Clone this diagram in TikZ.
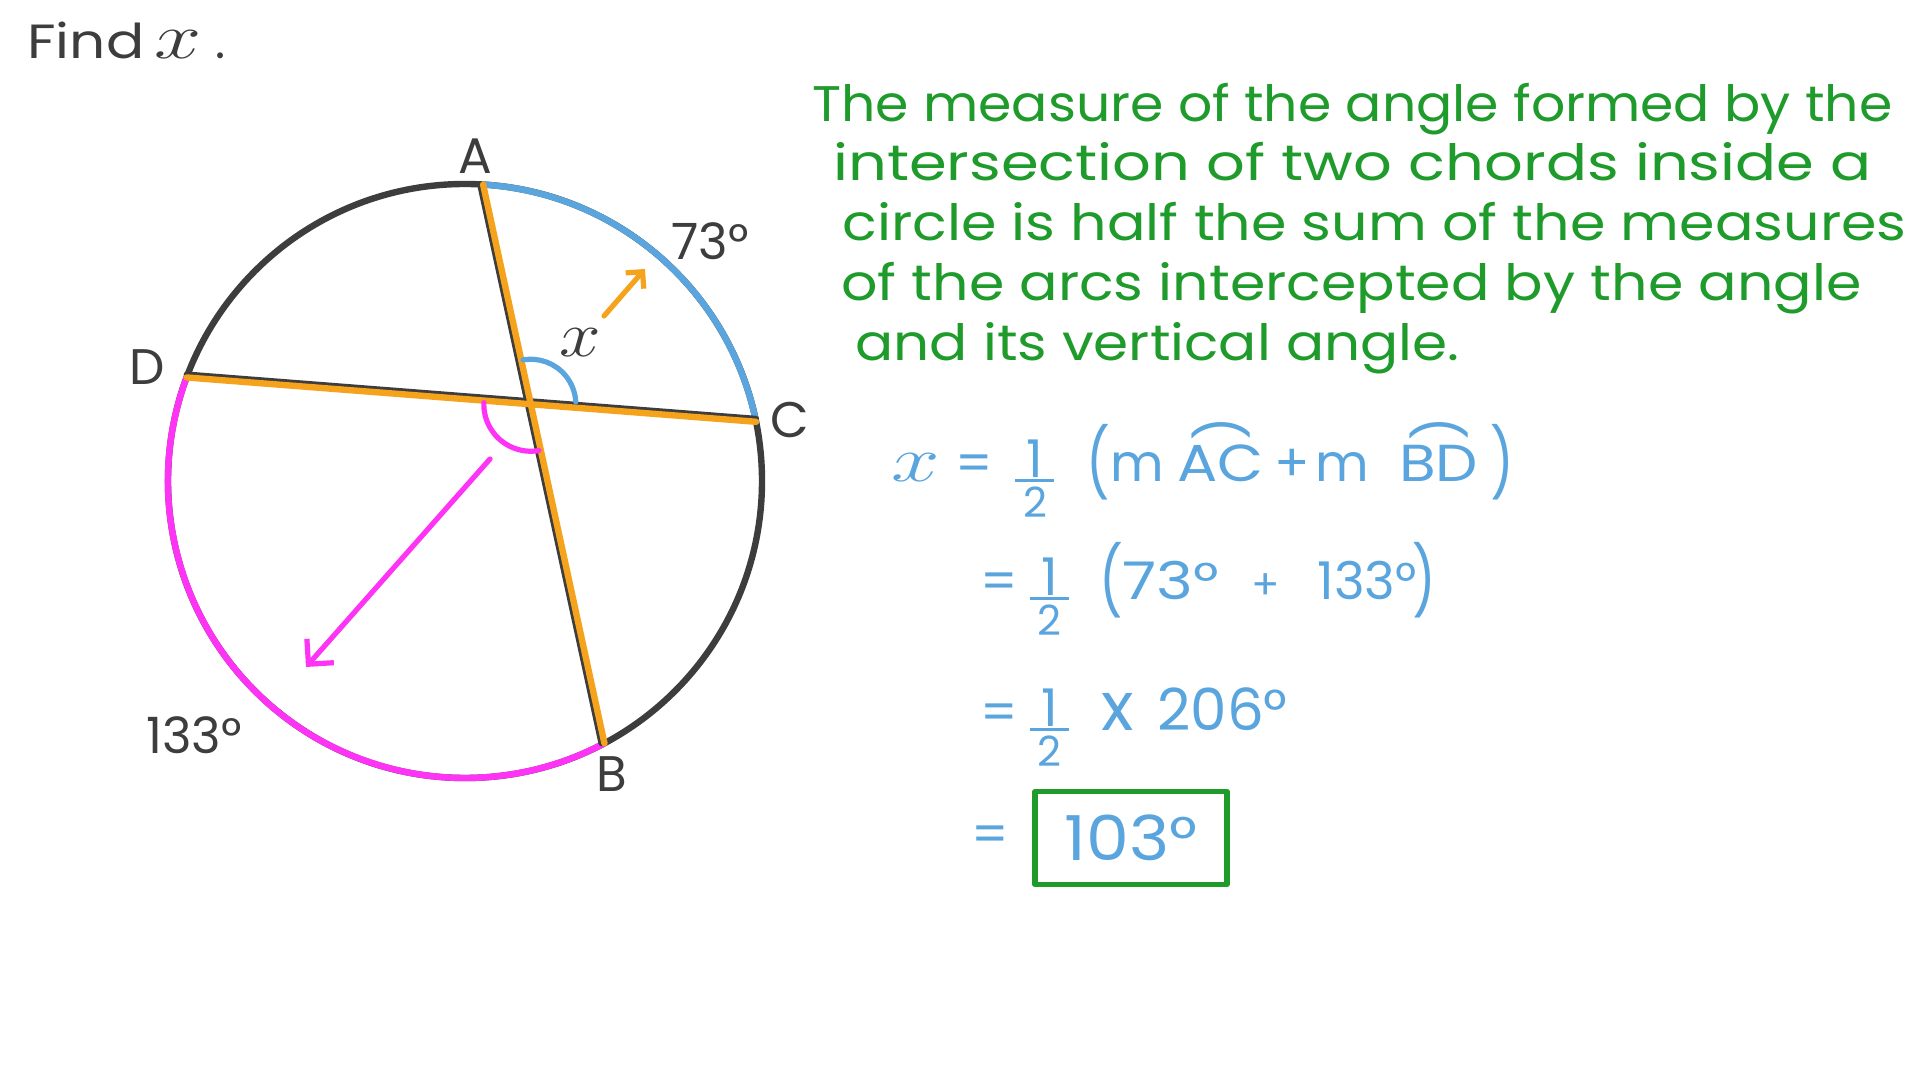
\documentclass[tikz,border=0pt]{standalone}
\usepackage{amsmath}
\usepackage{fontspec}
\setmainfont{Poppins}
\usetikzlibrary{arrows.meta}
\definecolor{ink}{HTML}{3D3D3D}
\definecolor{chord}{HTML}{F5A31C}
\definecolor{arcblue}{HTML}{5AA5DE}
\definecolor{arcpink}{HTML}{FF33F5}
\definecolor{note}{HTML}{1E9B2B}
% hand-written looking variable x
\newcommand\varx[1][1.35]{\scalebox{#1}[1.3]{$x$}}
% one half: 1 on the line, bar, smaller 2 below the line
\newcommand\halfmark[1][0.8]{\lower 18pt\vbox{\hbox to 0.75em{\hss 1\hss}\kern 1pt\hrule height 1.5pt\kern 2.5pt\hbox to 0.75em{\hss\scalebox{#1}{2}\hss}}}
% arc over two letters
\newcommand\arcover[1]{\setbox0\hbox{#1}\hbox{\rlap{\hbox to \wd0{\hss\raisebox{0.8em}{\rotatebox{90}{)}}\hss}}\box0}}
\newcommand\tallparen[1]{\raisebox{-3pt}{\scalebox{1}[1.3]{#1}}}
\begin{document}
\begin{tikzpicture}[x=0.5pt,y=0.5pt, line cap=round, line join=round,
  circ/.style={draw=ink, line width=3.2pt},
  chordline/.style={draw=chord, line width=3.2pt},
  lbl/.style={text=ink, font=\fontsize{25}{30}\selectfont, inner sep=0pt},
  greenline/.style={text=note, font=\fontsize{25}{30}\selectfont, anchor=base west, inner sep=0pt},
  bluemath/.style={text=arcblue, font=\fontsize{26}{32}\selectfont, anchor=base west, inner sep=0pt},
  answerbox/.style={draw=note, line width=2.6pt, text=arcblue, font=\fontsize{31}{36}\selectfont, minimum width=96pt, minimum height=46.5pt, inner sep=0pt},
  penarrow/.style={line width=2.6pt}
]
\useasboundingbox[fill=white] (0,0) rectangle (1920,1080);

% title
\node[lbl, anchor=base west, font=\fontsize{24}{28}\selectfont] (title) at (27,1021) {\scalebox{1.18}[1]{Find}\hspace{5pt}\varx[1.7]\hspace{7pt}.};

% circle geometry
\coordinate (O) at (465,599);
\path (O) ++(86.5:297) coordinate (A);
\path (O) ++(11.5:297) coordinate (C);
\path (O) ++(159.6:297) coordinate (D);
\path (O) ++(298:297) coordinate (B);
\coordinate (P) at (intersection of A--B and D--C);

\draw[circ] (O) circle[radius=297];
\draw[draw=arcblue, line width=3.2pt] (C) arc[start angle=11.5, end angle=86.5, radius=297];
\draw[draw=arcpink, line width=3.2pt] (D) arc[start angle=159.6, end angle=298, radius=297];

% chords (pencil line under the orange)
\draw[ink, line width=3pt] ([shift={(0,3)}]D) -- ([shift={(0,3)}]C);
\draw[ink, line width=3pt] ([shift={(-3,0)}]A) -- ([shift={(-3,0)}]B);
\draw[chordline] (A) -- (B);
\draw[chordline] (D) -- (C);

% angle marks
\draw[arcblue, line width=2.6pt] (P) ++(100:45) arc[start angle=100, end angle=3, radius=45];
\draw[arcpink, line width=2.6pt] (P) ++(178:47) arc[start angle=178, end angle=280, radius=47];

% arrows
\coordinate (oa1) at (604,764);
\coordinate (oa2) at (645,811);
\draw[penarrow, chord, -{Straight Barb[length=6pt,width=12pt]}] (oa1) -- (oa2);
\coordinate (pa1) at (490,621);
\coordinate (pa2) at (306,413);
\draw[penarrow, arcpink, -{Straight Barb[length=9pt,width=18pt]}] (pa1) -- (pa2);

% labels
\node[lbl] (la) at (475,924) {A};
\node[lbl] (lc) at (790,660) {C};
\node[lbl] (ld) at (147,713) {D};
\node[lbl] (lb) at (612,306) {B};
\node[lbl] (lx) at (580,737) {\varx[1.5]};
\node[lbl] (l73) at (710,839) {73°};
\node[lbl] (l133) at (194,345) {133°};

% explanation
\node[greenline] (g1) at (812,958) {\resizebox{540pt}{\height}{The measure of the angle formed by the}};
\node[greenline] (g2) at (833,899) {\resizebox{519pt}{\height}{intersection of two chords inside a}};
\node[greenline] (g3) at (842,839) {\resizebox{532pt}{\height}{circle is half the sum of the measures}};
\node[greenline] (g4) at (841,779) {\resizebox{510pt}{\height}{of the arcs intercepted by the angle}};
\node[greenline] (g5) at (855,719) {\resizebox{302pt}{\height}{and its vertical angle.}};

% working
\node[bluemath] (m1) at (891,598) {\varx[1.75]\hspace{8pt}=\hspace{11pt}\halfmark\hspace{16pt}\tallparen{(}m\hspace{7pt}\arcover{\scalebox{1.15}[1]{AC}}\hspace{5pt}+\hspace{3pt}m\hspace{15pt}\arcover{\scalebox{1.15}[1]{BD}}\hspace{6pt}\tallparen{)}};
\node[bluemath] (m2) at (980,480) {=\hspace{6pt}\halfmark\hspace{15pt}\tallparen{(}\scalebox{1.2}[1]{73°}\hspace{16pt}\scalebox{0.8}{+}\hspace{19pt}133°\hspace{-2pt}\tallparen{)}};
\node[bluemath] (m3) at (980,349) {=\hspace{6pt}\halfmark\hspace{16pt}\scalebox{1.3}{x}\hspace{12pt}{\fontsize{29}{32}\selectfont 206°}};
\node[bluemath, anchor=center] (m4) at (990,241) {=};
\node[answerbox] (ans) at (1131,242) {\scalebox{1.1}[1]{103°}};
\end{tikzpicture}
\end{document}
